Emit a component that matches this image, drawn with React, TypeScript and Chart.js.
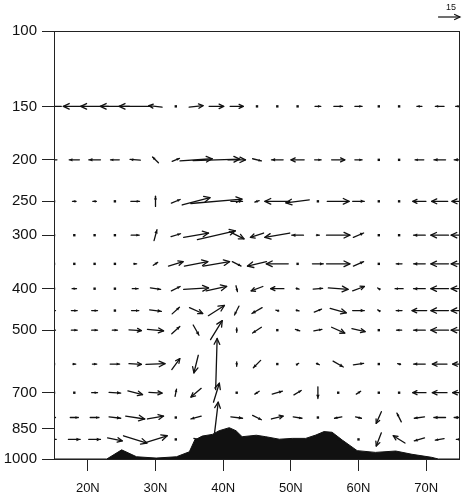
import React, { useEffect, useRef } from 'react';
import { Chart, registerables } from 'chart.js';

Chart.register(...registerables);

// ---- grid ----
const LATS = [15, 18, 21, 24, 27, 30, 33, 36, 39, 42, 45, 48, 51, 54, 57, 60, 63, 66, 69, 72, 75];
const LEVELS = [150, 200, 250, 300, 350, 400, 450, 500, 600, 700, 800, 900];

// ---- meridional wind (u) and scaled vertical motion (w) per level ----
const U_150 = [-10, -15, -19, -20, -22, -9, 0, 9.5, 10, 9, 1, 0.5, 1, 4, 6, 5, 1, -1, -3.5, -6, -6];
const W_150 = [0, 0, 0, 0, 0, 1, -1, 1, 0, 0, 0, -1, 0, 0, 0, 0, 0, 0, 0, 0, 0];
const U_200 = [-4, -7, -8, -6, -7, -4, 5, 22, 32, 12, 6, -8, -9, 4.5, 9, 5, 1, -1, -6, -8, -8];
const W_200 = [0, 0, 0, 0, 0.5, 4, 2, 1.5, 1, 0, -1.5, 0, 0, 0, 0, 0, 0, 0, 0, 0, 0];
const U_250 = [0, -2.5, -2.5, 0, 6, 0, 6, 19, 35, 8, -3, -17, -16, 0, 15, 8, 1, 0, -9, -11, -11];
const W_250 = [0, 0, 0, 1, 0, 7, 2.5, 5, 3, 0, -1, 0, -2, -0.5, 0, 0, 0, 1, 0, 0, 0];
const U_300 = [0, 1, 1, 0, 5.5, 2, 6.5, 17, 26, 10, -9, -17, -8, 2, 16, 7, 1, -1, -8, -12, -12];
const W_300 = [0, 0, 0, 1, 0, 7.5, 2, 3, 6, -5, -3, -3, 0, 0, 0, 3, 0, 0, 0, 0, 0];
const U_350 = [-1, -1, 0.5, -1, 2, 3, 10, 16, 18, 6, -13, -15, 0.5, 7.5, 16, 7, -1, -4, -8, -12, -12];
const W_350 = [0, -0.5, 0, 0, 0, 2, 3, 3, 3, -3, -3, 0, -0.5, 0, 0, 3, 0.5, 0, 0, 0, 0];
const U_400 = [0, 3, 0, 1.5, 4, 7, 6, 17, 14, 1, -8, -9, 2, 6.5, 13.5, 8, -1.5, -5.5, -8, -12, -12];
const W_400 = [0, 0, 1, 0, 0, -1, 3, 1, 3, -4, -3, 0, -0.5, 0.5, -1, 3, 1, 0, 0, 0, 0];
const U_450 = [2, 4, 4, 1.5, 5, 8, 5, 9, 11, -3, -7, -2, 2, 5, 11, 8, -1.5, -4, -10, -12, -12];
const W_450 = [0, 0, 0, 0, 0, -1, 4.5, -4, 7, -6, -4, 0.5, -0.5, 2, -3, 0, 1, 0, 0, 0, 0];
const U_500 = [2, 4, 4, 3.5, 8.5, 11, 5.5, 4, 8, 0, -6, 0.5, 3, 5.5, 9, 9, 0.5, -3.5, -8, -12, -12];
const W_500 = [0, 0, 0, 0, -0.5, -1, 5, -7, 13, -3, -4, 0.5, -1, 1, -4, -2, 0, 0, 0, 0, 0];
const U_600 = [1, 2, 3, 6.5, 8.5, 13, 5.5, -3, 1, 0, -5, 0.5, 1.5, 2, 7, 7, 0.5, -2, -8, -10, -10];
const W_600 = [0, 0, 0, 0, -0.5, 0.5, 7.5, -12, 35, -3, -5, 0, 1, -1, -4, 1, 0, 0.5, 0, 0, 0];
const U_700 = [1, 1.5, 4, 8, 10, 9, 1, -7, 4, 1, -3, 7, 5, 0, 1, 3, 0, 1, -9, -10, -10];
const W_700 = [0, 0, 0, -0.5, -2.5, -0.5, 5, -6, 13, 0, -2, 2, 3, -8, 0, 2, -1, -0.5, 0, 0, 0];
const U_800 = [2, 5.5, 6, 8, 13, 11, 0.5, -7, 2.5, 8, 6, 8, 6, 0.5, -5, 4, -3.5, -3, -7, -8, -8];
const W_800 = [0, 0, 0, -1, -2, 2, 0, -2, 21, -1, -3, 2, -1, 0, -1, -1, -8, 6, -1, 0, 0];
const U_900 = [3, 8, 8, 10, 16, 16, 0.5, -3, null, null, null, null, null, null, -1, 0.5, -3.5, -8, -7, -6, -5];
const W_900 = [0, 0, 0, -2, -5, 5, 0, 1.5, null, null, null, null, null, null, 1, 0, -9, 5, -2, -1, 0];

const U_ROWS = [U_150, U_200, U_250, U_300, U_350, U_400, U_450, U_500, U_600, U_700, U_800, U_900];
const W_ROWS = [W_150, W_200, W_250, W_300, W_350, W_400, W_450, W_500, W_600, W_700, W_800, W_900];

// ---- terrain (surface pressure, hPa) ----
const TERRAIN_LAT = [15, 22.8, 25.0, 27.2, 30.1, 33.1, 35.0, 35.8, 36.9, 38.4, 39.4, 40.9, 41.9, 42.8, 44.9, 46.3, 48.3, 50.2, 52.2, 53.7, 54.9, 56.1, 57.6, 59.8, 62.5, 65.5, 67.9, 70.8, 71.8, 75];
const TERRAIN_P = [1000, 1000, 952, 988, 995, 988, 962, 903, 884, 876, 859, 845, 859, 887, 880, 887, 899, 895, 895, 879, 863, 866, 903, 956, 965, 958, 975, 991, 1000, 1000];

// ---- axes ----
const Y_TICKS = [100, 150, 200, 250, 300, 400, 500, 700, 850, 1000];
const X_TICKS = [20, 30, 40, 50, 60, 70];
const REF_SPEED = 15;
const REF_LEN_DEG = 3.24; // reference vector length expressed in degrees of latitude

const INK = '#111';
const FONT = "'Liberation Sans', Arial, Helvetica, sans-serif";

function drawArrow(ctx: CanvasRenderingContext2D, cx: number, cy: number, dx: number, dy: number) {
  const len = Math.hypot(dx, dy);
  if (len < 2.5) {
    ctx.fillRect(cx - 1.2, cy - 1.2, 2.4, 2.4);
    return;
  }
  const x0 = cx - dx / 2, y0 = cy - dy / 2, x1 = cx + dx / 2, y1 = cy + dy / 2;
  const a = Math.atan2(dy, dx);
  ctx.beginPath();
  ctx.moveTo(x0, y0);
  ctx.lineTo(x1, y1);
  ctx.stroke();
  const h = Math.max(3.2, Math.min(6.5, len * 0.35));
  const sp = 0.45;
  if (len < 12) {
    ctx.beginPath();
    ctx.moveTo(x1, y1);
    ctx.lineTo(x1 - h * Math.cos(a - sp), y1 - h * Math.sin(a - sp));
    ctx.lineTo(x1 - h * Math.cos(a + sp), y1 - h * Math.sin(a + sp));
    ctx.closePath();
    ctx.fill();
  } else {
    ctx.beginPath();
    ctx.moveTo(x1 - h * Math.cos(a - sp), y1 - h * Math.sin(a - sp));
    ctx.lineTo(x1, y1);
    ctx.lineTo(x1 - h * Math.cos(a + sp), y1 - h * Math.sin(a + sp));
    ctx.stroke();
  }
}

const vectorPlugin = {
  id: 'vectorField',
  afterDatasetsDraw(chart: any) {
    const { ctx, chartArea, scales } = chart;
    const xs = scales.x, ys = scales.y;
    const k = (xs.getPixelForValue(LATS[0] + REF_LEN_DEG) - xs.getPixelForValue(LATS[0])) / REF_SPEED;
    ctx.save();
    ctx.beginPath();
    ctx.rect(chartArea.left, chartArea.top, chartArea.right - chartArea.left, chartArea.bottom - chartArea.top);
    ctx.clip();
    ctx.strokeStyle = INK;
    ctx.fillStyle = INK;
    ctx.lineWidth = 1.3;
    ctx.lineCap = 'round';
    ctx.lineJoin = 'round';
    LEVELS.forEach((lev, r) => {
      const cy = ys.getPixelForValue(lev);
      LATS.forEach((lat, c) => {
        const u = U_ROWS[r][c];
        const w = W_ROWS[r][c];
        if (u == null || w == null) return;
        const cx = xs.getPixelForValue(lat);
        drawArrow(ctx, cx, cy, u * k, -w * k);
      });
    });
    ctx.restore();

    // frame
    ctx.save();
    ctx.strokeStyle = '#222';
    ctx.lineWidth = 1;
    ctx.strokeRect(Math.round(chartArea.left) + 0.5, Math.round(chartArea.top) + 0.5,
      Math.round(chartArea.right - chartArea.left) - 1, Math.round(chartArea.bottom - chartArea.top));
    ctx.restore();

    // reference vector
    ctx.save();
    ctx.strokeStyle = INK;
    ctx.fillStyle = INK;
    ctx.lineWidth = 1.2;
    const L = REF_SPEED * k;
    const ry = chartArea.top - 14;
    const rx1 = chartArea.right;
    drawArrow(ctx, rx1 - L / 2, ry, L, 0);
    ctx.font = `9px ${FONT}`;
    ctx.textAlign = 'center';
    ctx.textBaseline = 'middle';
    ctx.fillText(String(REF_SPEED), rx1 - L / 2 + 2, chartArea.top - 23);
    ctx.restore();
  },
};

export default function App() {
  const ref = useRef<HTMLCanvasElement>(null);
  useEffect(() => {
    document.body.style.margin = '0';
    const canvas = ref.current;
    if (!canvas) return;
    const terrain = TERRAIN_LAT.map((x, i) => ({ x, y: TERRAIN_P[i] }));
    const chart = new Chart(canvas, {
      type: 'line',
      data: {
        datasets: [
          {
            data: terrain,
            borderColor: '#111',
            backgroundColor: '#111',
            borderWidth: 1,
            pointRadius: 0,
            tension: 0,
            fill: { value: 1000 },
          } as any,
        ],
      },
      options: {
        responsive: false,
        animation: false,
        devicePixelRatio: 1,
        events: [],
        layout: { padding: { top: 31, right: 2, left: 0, bottom: 0 } },
        plugins: { legend: { display: false }, tooltip: { enabled: false } },
        scales: {
          x: {
            type: 'linear',
            min: 15,
            max: 75,
            afterBuildTicks: (s: any) => { s.ticks = X_TICKS.map((v) => ({ value: v })); },
            afterFit: (s: any) => { s.height = 36; },
            grid: { drawOnChartArea: false, drawTicks: true, tickLength: 12, color: '#222', lineWidth: 1 },
            border: { display: false },
            ticks: {
              autoSkip: false,
              maxRotation: 0,
              padding: 10,
              color: '#111',
              font: { family: FONT, size: 13 },
              callback: (v: any) => `${v}N`,
            },
          },
          y: {
            type: 'logarithmic',
            min: 100,
            max: 1000,
            reverse: true,
            afterBuildTicks: (s: any) => { s.ticks = Y_TICKS.map((v) => ({ value: v })); },
            afterFit: (s: any) => { s.width = 54; },
            grid: { drawOnChartArea: false, drawTicks: true, tickLength: 12, color: '#222', lineWidth: 1 },
            border: { display: false },
            ticks: {
              autoSkip: false,
              padding: 5,
              color: '#111',
              font: { family: FONT, size: 15 },
              callback: (v: any) => String(v),
            },
          },
        },
      },
      plugins: [vectorPlugin],
    });
    return () => chart.destroy();
  }, []);
  return (
    <div style={{ width: 462, height: 495 }}>
      <canvas ref={ref} width={462} height={495} />
    </div>
  );
}
